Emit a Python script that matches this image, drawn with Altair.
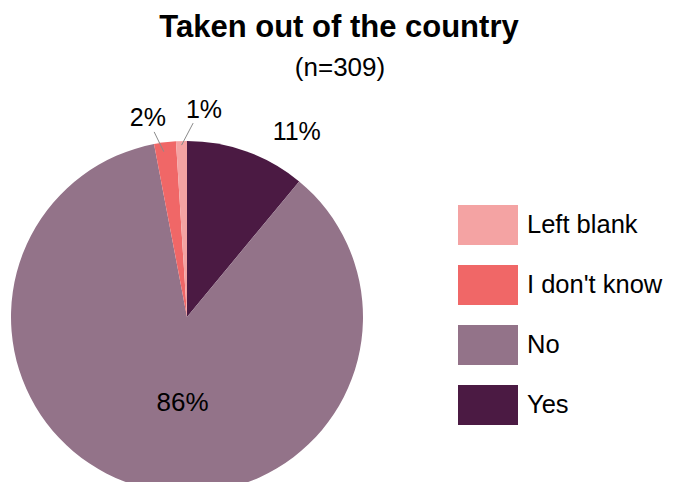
import altair as alt
import pandas as pd

title_text = "Taken out of the country"
subtitle_text = "(n=309)"
categories = ["Yes", "No", "I don't know", "Left blank"]
percents = [11, 86, 2, 1]
labels = ["11%", "86%", "2%", "1%"]
legend_order = ["Left blank", "I don't know", "No", "Yes"]
legend_colors = ["#f4a3a3", "#f06767", "#937389", "#4b1a43"]

df = pd.DataFrame({
    "category": categories,
    "value": percents,
    "label": labels,
    "order": list(range(len(categories))),
})

CX, CY, R = 179, 309, 176
FONT = "Liberation Sans"

base = alt.Chart(df)

pie = base.mark_arc(radius=R, strokeWidth=0).encode(
    theta=alt.Theta("value:Q", stack=True),
    order=alt.Order("order:Q"),
    color=alt.Color(
        "category:N",
        scale=alt.Scale(domain=legend_order, range=legend_colors),
        legend=alt.Legend(
            title=None, orient="none", legendX=450, legendY=187,
            symbolType="M-1,-0.6667L1,-0.6667L1,0.6667L-1,0.6667Z",
            symbolSize=3600, symbolStrokeWidth=0, symbolOpacity=1,
            labelFont=FONT, labelFontSize=25.5, labelColor="black",
            labelOffset=9, rowPadding=9, padding=0, labelLimit=300,
        ),
    ),
    x=alt.value(CX), y=alt.value(CY),
)

# (category, radius, angular offset in radians, font size)
label_specs = [("Yes", 215, 0.19, 25), ("No", 86, -0.2, 26), ("I don't know", 203, -0.068, 25), ("Left blank", 208, 0.113, 25)]
label_layers = []
for cat, rad, off, fs in label_specs:
    label_layers.append(
        base.mark_text(radius=rad, thetaOffset=off, font=FONT, fontSize=fs, color="black").encode(
            theta=alt.Theta("value:Q", stack=True),
            order=alt.Order("order:Q"),
            text=alt.condition(alt.datum.category == cat, "label:N", alt.value("")),
            x=alt.value(CX), y=alt.value(CY),
        )
    )

# leader lines: (category, r1, off1, r2, off2)
leader_specs = [("I don't know", 188, -0.05, 167, -0.014), ("Left blank", 194, 0.063, 172, 0.0)]
leader_layers = []
for cat, r1, o1, r2, o2 in leader_specs:
    leader_layers.append(
        base.transform_joinaggregate(total="sum(value)")
        .transform_window(cum="sum(value)", sort=[alt.SortField("order")], frame=[None, 0])
        .transform_calculate(mid="PI*(2*datum.cum - datum.value)/datum.total")
        .transform_filter(alt.datum.category == cat)
        .transform_calculate(
            lx1=f"{CX} + {r1}*sin(datum.mid + {o1})",
            ly1=f"{CY} - {r1}*cos(datum.mid + {o1})",
            lx2=f"{CX} + {r2}*sin(datum.mid + {o2})",
            ly2=f"{CY} - {r2}*cos(datum.mid + {o2})",
        )
        .mark_rule(color="#8a8a8a", strokeWidth=1)
        .encode(
            x=alt.X("lx1:Q", scale=None, axis=None),
            y=alt.Y("ly1:Q", scale=None, axis=None),
            x2="lx2:Q", y2="ly2:Q",
        )
    )

title_df = pd.DataFrame({"t": [title_text]})
sub_df = pd.DataFrame({"t": [subtitle_text]})
title = alt.Chart(title_df).mark_text(font=FONT, fontSize=31, fontWeight="bold", color="black", baseline="middle").encode(
    text="t:N", x=alt.value(331), y=alt.value(20))
subtitle = alt.Chart(sub_df).mark_text(font=FONT, fontSize=26, color="black", baseline="middle").encode(
    text="t:N", x=alt.value(332), y=alt.value(60))

chart = alt.layer(pie, *label_layers, *leader_layers, title, subtitle).properties(
    width=657, height=474, padding=0, autosize=alt.AutoSizeParams(type="none"),
    background="white",
).configure_view(stroke=None)

chart.save("out.html", embed_options={"renderer": "svg", "actions": False})
